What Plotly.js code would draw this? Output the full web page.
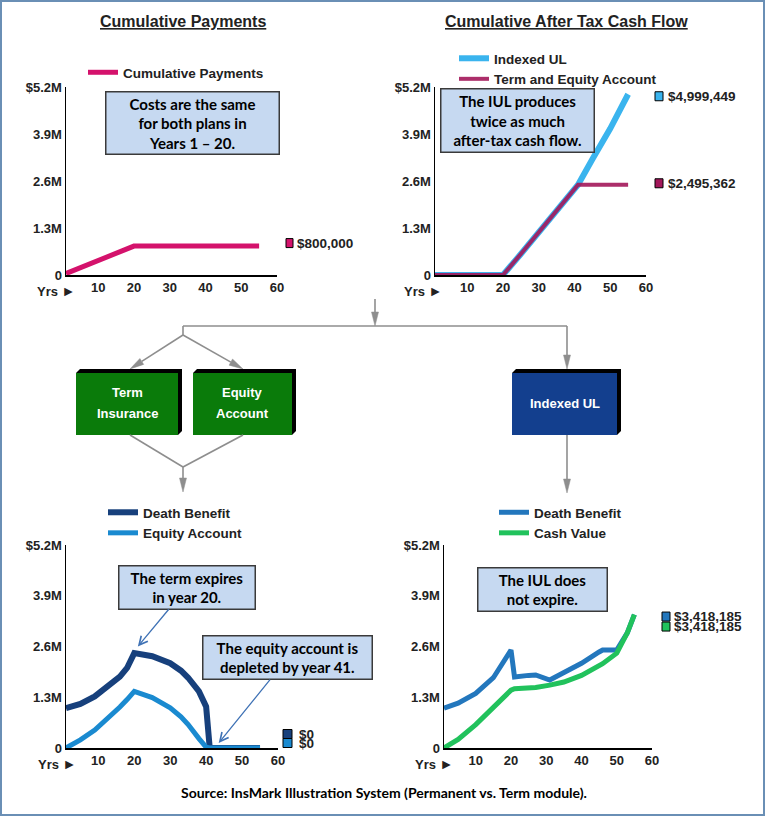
<!DOCTYPE html>
<html><head><meta charset="utf-8">
<script src="https://cdn.plot.ly/plotly-3.0.1.min.js"></script>
<style>html,body{margin:0;padding:0;background:#fff;}#chart{width:769px;height:816px;}</style>
</head><body><div id="chart"></div>
<script>
// ---------- data ----------
const yearsPay = [1, 20, 55];
const cumPayments = [40000, 800000, 800000];

const yearsCash = [1, 20, 25, 30, 35, 41, 45, 50, 55];
const indexedULCash = [0, 0, 580000, 1170000, 1780000, 2495362, 3200000, 4050000, 4999449];
const termEquityCash = [0, 0, 580000, 1170000, 1780000, 2495362, 2495362, 2495362, 2495362];

const yearsTerm = [1, 5, 9, 12, 16, 18, 20, 25, 30, 33, 35, 38, 40, 41, 45, 50, 55];
const termDeathBenefit = [1020000, 1130000, 1320000, 1520000, 1830000, 2050000, 2430000, 2350000, 2170000, 1980000, 1800000, 1450000, 1060000, 0, 0, 0, 0];
const equityAccount = [0, 210000, 460000, 700000, 1050000, 1240000, 1450000, 1290000, 1030000, 800000, 600000, 240000, 20000, 0, 0, 0, 0];

const yearsIUL = [1, 5, 10, 15, 20, 21, 25, 27, 31, 35, 40, 45, 46, 50, 53, 55];
const iulDeathBenefit = [1020000, 1150000, 1400000, 1800000, 2510000, 1820000, 1860000, 1870000, 1740000, 1920000, 2170000, 2460000, 2510000, 2510000, 2950000, 3418185];
const iulCashValue = [0, 220000, 600000, 1030000, 1480000, 1520000, 1530000, 1550000, 1610000, 1690000, 1860000, 2100000, 2160000, 2430000, 2950000, 3418185];

const yTickVals = [0, 1300000, 2600000, 3900000, 5200000];
const yTickText = ['0', '1.3M', '2.6M', '3.9M', '$5.2M'];
const xTickVals = [10, 20, 30, 40, 50, 60];
const xTickText = ['10', '20', '30', '40', '50', '60'];

// ---------- helpers ----------
const W = 769, H = 816;
const P = x => x / W, Q = y => 1 - y / H;
const AF = 'Liberation Sans, Arial, sans-serif';
const CF = 'Lato, Open Sans, sans-serif';
const TXT = '#222222';
const fmt = v => '$' + Math.round(v).toLocaleString('en-US');
const last = a => a[a.length - 1];

const C = {
  pink: '#d4126c', iul: '#3ab4ee', term: '#a3175a',
  dbNavy: '#17407c', eq: '#1a8ad0', dbBlue: '#2377bd', cv: '#21c25c'
};

function xAxis(x0, x1, anchor) {
  return {domain: [P(x0), P(x1)], anchor, range: [1, 60], tickmode: 'array', tickvals: xTickVals, ticktext: xTickText,
    ticks: '', showline: true, linecolor: '#000', linewidth: 1.5, showgrid: false, zeroline: false,
    tickfont: {family: AF, size: 13, color: TXT, weight: 'bold'}, fixedrange: true};
}
function yAxis(yTop, yBot, anchor) {
  return {domain: [Q(yBot), Q(yTop)], anchor, range: [0, 5200000], tickmode: 'array', tickvals: yTickVals, ticktext: yTickText,
    ticks: '', showline: true, linecolor: '#000', linewidth: 1.5, showgrid: false, zeroline: false,
    tickfont: {family: AF, size: 13, color: TXT, weight: 'bold'}, fixedrange: true};
}
function legendAt(xText, yTop) {
  return {x: P(xText - 42), xanchor: 'left', y: Q(yTop), yanchor: 'top', bgcolor: 'rgba(0,0,0,0)', borderwidth: 0,
    font: {family: AF, size: 13.5, color: TXT, weight: 'bold'}, itemwidth: 30, traceorder: 'normal', tracegroupgap: 0};
}

function trace(x, y, name, color, width, xa, ya, leg) {
  return {type: 'scatter', mode: 'lines', x, y, name, xaxis: xa, yaxis: ya, legend: leg, cliponaxis: false,
    line: {color, width}, hoverinfo: 'skip'};
}

const traces = [
  trace(yearsPay, cumPayments, 'Cumulative Payments', C.pink, 5, 'x', 'y', 'legend'),
  trace(yearsCash, indexedULCash, 'Indexed UL', C.iul, 6, 'x2', 'y2', 'legend2'),
  Object.assign(trace(yearsCash, termEquityCash, 'Term and Equity Account', C.term, 4, 'x2', 'y2', 'legend2'), {opacity: 0.9}),
  trace(yearsTerm, termDeathBenefit, 'Death Benefit', C.dbNavy, 6, 'x3', 'y3', 'legend3'),
  trace(yearsTerm, equityAccount, 'Equity Account', C.eq, 5, 'x3', 'y3', 'legend3'),
  trace(yearsIUL, iulDeathBenefit, 'Death Benefit', C.dbBlue, 5, 'x4', 'y4', 'legend4'),
  trace(yearsIUL, iulCashValue, 'Cash Value', C.cv, 5, 'x4', 'y4', 'legend4')
];

// ---------- shapes ----------
const shapes = [];
const annotations = [];

// outer frame
shapes.push({type: 'rect', xref: 'paper', yref: 'paper', x0: P(1), y0: Q(815), x1: P(764), y1: Q(1), line: {color: '#6a8fb5', width: 2}, fillcolor: 'rgba(0,0,0,0)'});

// end-value labels: square marker + text
function endLabel(xa, ya, value, color, sqX0, sqX1, textX, shift) {
  const xd = xa + ' domain';
  shapes.push({type: 'rect', xref: xd, yref: ya, xsizemode: 'pixel', ysizemode: 'pixel', xanchor: 1, yanchor: value,
    x0: sqX0, x1: sqX1, y0: shift - 4.5, y1: shift + 4.5, fillcolor: color, line: {color: '#000', width: 1}});
  annotations.push({xref: xd, yref: ya, x: 1, y: value, xanchor: 'left', yanchor: 'middle', xshift: textX, yshift: shift,
    text: fmt(value), showarrow: false, font: {family: AF, size: 13.5, color: TXT, weight: 'bold'}});
}
endLabel('x', 'y', last(cumPayments), C.pink, 9, 16, 18, 3);
endLabel('x2', 'y2', last(indexedULCash), C.iul, 9, 17, 20, -2);
endLabel('x2', 'y2', last(termEquityCash), C.term, 9, 17, 20, 1.5);
endLabel('x3', 'y3', last(termDeathBenefit), C.dbNavy, 5, 14, 19, 14);
endLabel('x3', 'y3', last(equityAccount), C.eq, 5, 14, 19, 5);
endLabel('x4', 'y4', last(iulDeathBenefit), C.dbBlue, 10, 18, 20, -2);
endLabel('x4', 'y4', last(iulCashValue), C.cv, 10, 18, 20, -12);

// diagram
const GRAY = '#8e8e8e';
function seg(x0, y0, x1, y1) {
  shapes.push({type: 'line', xref: 'paper', yref: 'paper', x0: P(x0), y0: Q(y0), x1: P(x1), y1: Q(y1), line: {color: GRAY, width: 1.6}});
}
function arrowTo(x0, y0, x1, y1) {
  const L = 14, hw = 3.5;
  const dx = x1 - x0, dy = y1 - y0, len = Math.hypot(dx, dy);
  const ux = dx / len, uy = dy / len, nx = -uy, ny = ux;
  const bx = x1 - L * ux, by = y1 - L * uy;
  seg(x0, y0, bx, by);
  const path = `M${P(x1)},${Q(y1)} L${P(bx + hw * nx)},${Q(by + hw * ny)} L${P(bx - hw * nx)},${Q(by - hw * ny)} Z`;
  shapes.push({type: 'path', xref: 'paper', yref: 'paper', path, fillcolor: GRAY, line: {color: GRAY, width: 0.5}});
}
function box3d(x0, y0, x1, y1, color) {
  const d = 4;
  const path = `M${P(x0)},${Q(y0)} L${P(x0 + d)},${Q(y0 - d)} L${P(x1 + d)},${Q(y0 - d)} L${P(x1 + d)},${Q(y1 - d)} L${P(x1)},${Q(y1)} Z`;
  shapes.push({type: 'path', xref: 'paper', yref: 'paper', path, fillcolor: '#000', line: {width: 0}});
  shapes.push({type: 'rect', xref: 'paper', yref: 'paper', x0: P(x0), y0: Q(y1), x1: P(x1), y1: Q(y0), fillcolor: color, line: {width: 0}});
}
function boxText(t, x, y) {
  annotations.push({xref: 'paper', yref: 'paper', x: P(x), y: Q(y), xanchor: 'center', yanchor: 'middle', text: t, showarrow: false,
    font: {family: AF, size: 13, color: '#ffffff', weight: 'bold'}});
}

arrowTo(375, 299, 375, 326);
seg(183, 326, 567, 326);
seg(183, 326, 183, 335);
arrowTo(183, 335, 130, 369);
arrowTo(183, 335, 243, 369);
arrowTo(567, 326, 567, 369);
box3d(76, 373, 178, 435, '#0a7b0a');
box3d(193, 373, 292, 435, '#0a7b0a');
box3d(512, 373, 617, 435, '#133f8e');
seg(130, 435, 183, 467);
seg(243, 435, 183, 467);
arrowTo(183, 467, 183, 492);
arrowTo(567, 435, 567, 493);
boxText('Term', 127, 392); boxText('Insurance', 127, 413);
boxText('Equity', 242, 392); boxText('Account', 242, 413);
boxText('Indexed UL', 565, 403);

// titles
function title(t, cx, cy) {
  annotations.push({xref: 'paper', yref: 'paper', x: P(cx), y: Q(cy), xanchor: 'center', yanchor: 'middle', showarrow: false,
    text: '<u>' + t + '</u>', font: {family: AF, size: 16, color: TXT, weight: 'bold'}});
}
title('Cumulative Payments', 183, 21);
title('Cumulative After Tax Cash Flow', 566, 21);

// Yrs labels
[[77, 291], [444, 291], [78, 764], [455, 764]].forEach(([x, y]) => {
  annotations.push({xref: 'paper', yref: 'paper', x: P(x), y: Q(y), xanchor: 'right', yanchor: 'middle', showarrow: false,
    text: 'Yrs <span style="font-size:14px">\u25BA</span>', font: {family: AF, size: 13, color: TXT, weight: 'bold'}});
});

// callouts
const CALLOUT = {bgcolor: '#c6d9f1', bordercolor: '#3a3a3a', borderwidth: 1.5, borderpad: 0,
  font: {family: CF, size: 15, color: '#000', weight: 'bold'}, align: 'center'};
function callout(t, cx, cy, w, h) {
  annotations.push(Object.assign({xref: 'paper', yref: 'paper', x: P(cx), y: Q(cy), xanchor: 'center', yanchor: 'middle',
    showarrow: false, text: t, width: w - 3, height: h - 3}, CALLOUT));
}
callout('Costs are the same<br>for both plans in<br>Years 1 \u2013 20.', 192.5, 123, 175, 64);
callout('The IUL produces<br>twice as much<br>after-tax cash flow.', 517.5, 120.5, 155, 65);
callout('The IUL does<br>not expire.', 542.5, 589.5, 131, 45);
annotations.push(Object.assign({xref: 'x3', yref: 'y3', x: 21, y: 2600000, ax: 49, ay: -59, showarrow: true,
  arrowhead: 5, arrowsize: 1.3, arrowwidth: 1.3, arrowcolor: '#3f72b5', text: 'The term expires<br>in year 20.', width: 135, height: 42}, CALLOUT));
annotations.push(Object.assign({xref: 'x3', yref: 'y3', x: 43.5, y: 130000, ax: 69, ay: -85, showarrow: true,
  arrowhead: 5, arrowsize: 1.3, arrowwidth: 1.3, arrowcolor: '#3f72b5', text: 'The equity account is<br>depleted by year 41.', width: 168, height: 42}, CALLOUT));

// source
annotations.push({xref: 'paper', yref: 'paper', x: P(384), y: Q(792), xanchor: 'center', yanchor: 'middle', showarrow: false,
  text: 'Source: InsMark Illustration System (Permanent vs. Term module).', font: {family: CF, size: 14, color: '#000', weight: 'bold'}});

const layout = {
  width: W, height: H, margin: {l: 0, r: 0, t: 0, b: 0}, paper_bgcolor: '#ffffff', plot_bgcolor: 'rgba(0,0,0,0)',
  showlegend: true,
  xaxis: xAxis(66, 277, 'y'), yaxis: yAxis(87, 275, 'x'),
  xaxis2: xAxis(435, 646, 'y2'), yaxis2: yAxis(87, 275, 'x2'),
  xaxis3: xAxis(66, 278, 'y3'), yaxis3: yAxis(545, 748, 'x3'),
  xaxis4: xAxis(444, 652, 'y4'), yaxis4: yAxis(545, 748, 'x4'),
  legend: legendAt(125, 57),
  legend2: legendAt(496, 43),
  legend3: legendAt(145, 497),
  legend4: legendAt(536, 497),
  shapes, annotations
};

Plotly.newPlot('chart', traces, layout, {displayModeBar: false, staticPlot: true});
</script>
</body></html>
